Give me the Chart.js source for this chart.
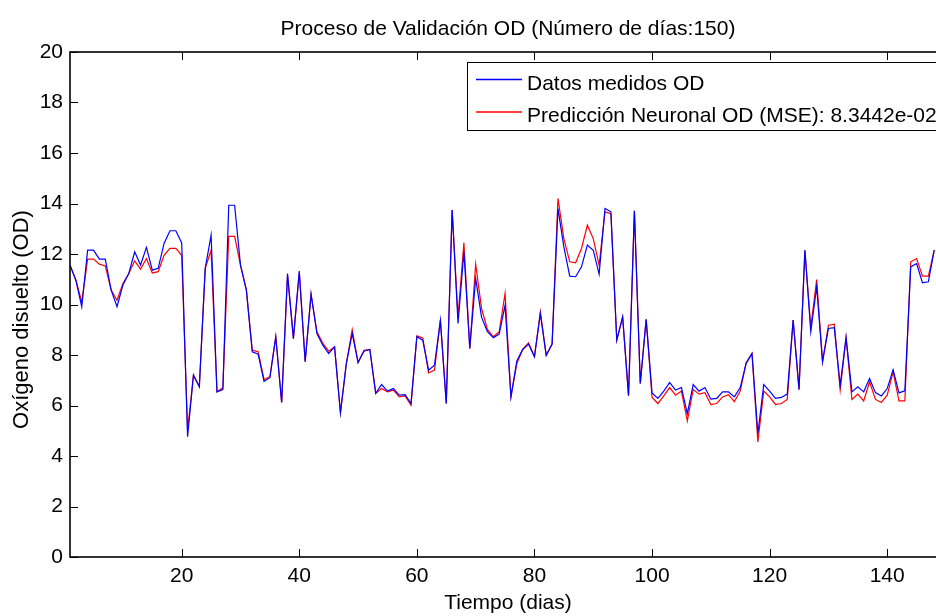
<!DOCTYPE html>
<html>
<head>
<meta charset="utf-8">
<script src="https://cdn.jsdelivr.net/npm/chart.js@4"></script>
<style>
  html, body { margin: 0; padding: 0; background: #fff; }
  #view { width: 936px; height: 616px; overflow: hidden; }
  #wrap { width: 1016px; height: 616px; position: relative; }
</style>
</head>
<body>
<div id="view"><div id="wrap"><canvas id="chart"></canvas></div></div>
<script>
const FONT = "'Liberation Sans', Arial, Helvetica, sans-serif";

// oxígeno disuelto medido, día 1..148
const measured = [
  11.56, 10.96, 9.91, 12.15, 12.15, 11.80, 11.80, 10.57, 9.91, 10.77,
  11.23, 12.09, 11.56, 12.26, 11.36, 11.43, 12.42, 12.92, 12.92, 12.44,
  4.76, 7.20, 6.74, 11.43, 12.75, 6.54, 6.63, 13.93, 13.93, 11.56,
  10.57, 8.13, 8.03, 6.96, 7.10, 8.72, 6.12, 11.23, 8.65, 11.33,
  7.73, 10.41, 8.85, 8.39, 8.06, 8.32, 5.71, 7.66, 8.85, 7.70,
  8.15, 8.22, 6.48, 6.83, 6.57, 6.67, 6.41, 6.43, 6.08, 8.72,
  8.59, 7.40, 7.60, 9.38, 6.08, 13.74, 9.25, 12.09, 8.26, 11.03,
  9.50, 8.92, 8.68, 8.83, 9.97, 6.34, 7.76, 8.22, 8.43, 7.93,
  9.64, 7.99, 8.43, 13.80, 12.28, 11.12, 11.10, 11.49, 12.35, 12.15,
  11.20, 13.80, 13.67, 8.59, 9.51, 6.40, 13.71, 6.87, 9.41, 6.50,
  6.28, 6.57, 6.91, 6.61, 6.71, 5.68, 6.83, 6.57, 6.71, 6.25,
  6.28, 6.54, 6.54, 6.34, 6.71, 7.66, 8.06, 4.89, 6.83, 6.57,
  6.28, 6.32, 6.45, 9.38, 6.63, 12.15, 8.92, 10.70, 7.73, 9.05,
  9.08, 6.80, 8.69, 6.54, 6.74, 6.54, 7.07, 6.51, 6.38, 6.67,
  7.42, 6.50, 6.58, 11.49, 11.62, 10.86, 10.90, 12.15
];

// salida de la red neuronal
const predicted = [
  11.56, 10.96, 10.10, 11.80, 11.80, 11.60, 11.53, 10.57, 10.17, 10.83,
  11.23, 11.73, 11.40, 11.82, 11.25, 11.30, 11.95, 12.22, 12.22, 11.95,
  5.02, 7.20, 6.74, 11.43, 12.15, 6.54, 6.70, 12.70, 12.70, 11.56,
  10.57, 8.19, 8.13, 7.03, 7.14, 8.72, 6.12, 11.16, 8.65, 11.25,
  7.73, 10.41, 8.92, 8.46, 8.15, 8.32, 5.71, 7.66, 9.00, 7.70,
  8.19, 8.22, 6.48, 6.67, 6.54, 6.61, 6.34, 6.38, 6.01, 8.76,
  8.68, 7.29, 7.40, 9.38, 6.08, 13.74, 9.51, 12.44, 8.26, 11.60,
  9.85, 9.01, 8.72, 8.92, 10.44, 6.34, 7.66, 8.22, 8.48, 7.93,
  9.71, 7.99, 8.43, 14.20, 12.61, 11.69, 11.65, 12.22, 13.14, 12.61,
  11.56, 13.67, 13.60, 8.59, 9.51, 6.38, 13.71, 6.87, 9.41, 6.32,
  6.08, 6.38, 6.71, 6.41, 6.57, 5.39, 6.63, 6.45, 6.51, 6.04,
  6.08, 6.34, 6.43, 6.15, 6.57, 7.69, 8.06, 4.56, 6.57, 6.34,
  6.04, 6.08, 6.24, 9.38, 6.63, 12.15, 9.10, 10.99, 7.73, 9.18,
  9.22, 6.61, 8.69, 6.24, 6.45, 6.18, 6.94, 6.24, 6.12, 6.41,
  7.33, 6.18, 6.18, 11.69, 11.82, 11.12, 11.12, 12.15
];

const days = measured.map((_, i) => i + 1);
const seriesNames = ['Datos medidos OD', 'Predicción Neuronal OD (MSE): 8.3442e-02'];
const seriesColors = ['#0000ff', '#ff0000'];
const titleText = 'Proceso de Validación OD (Número de días:150)';
const yTitle = 'Oxígeno disuelto (OD)';

const TICK = 8;

// marco estilo MATLAB: título, caja, marcas hacia dentro, leyenda y etiqueta Y
const matlabFrame = {
  id: 'matlabFrame',
  afterDraw(chart) {
    const {ctx, chartArea: a, scales: {x, y}} = chart;
    ctx.save();

    // título centrado sobre los ejes
    ctx.fillStyle = '#000';
    ctx.font = '21px ' + FONT;
    ctx.textAlign = 'center';
    ctx.textBaseline = 'alphabetic';
    ctx.fillText(titleText, (a.left + a.right) / 2, 35);

    ctx.strokeStyle = '#000';
    ctx.lineWidth = 1;
    ctx.beginPath();
    x.ticks.forEach(t => {
      const px = Math.round(x.getPixelForValue(t.value)) + 0.5;
      ctx.moveTo(px, a.bottom); ctx.lineTo(px, a.bottom - TICK);
      ctx.moveTo(px, a.top); ctx.lineTo(px, a.top + TICK);
    });
    y.ticks.forEach(t => {
      const py = Math.round(y.getPixelForValue(t.value)) + 0.5;
      ctx.moveTo(a.left, py); ctx.lineTo(a.left + TICK, py);
      ctx.moveTo(a.right, py); ctx.lineTo(a.right - TICK, py);
    });
    ctx.stroke();

    ctx.lineWidth = 1.6;
    ctx.strokeRect(a.left, a.top, a.right - a.left, a.bottom - a.top);

    // leyenda
    const lx = a.right - 479, ly = a.top + 10;
    ctx.fillStyle = '#fff';
    ctx.fillRect(lx, ly, 477, 68);
    ctx.lineWidth = 1;
    ctx.strokeStyle = '#000';
    ctx.strokeRect(lx + 0.5, ly + 0.5, 477, 68);
    ctx.font = '21px ' + FONT;
    ctx.textAlign = 'left';
    ctx.textBaseline = 'alphabetic';
    seriesNames.forEach((name, i) => {
      const base = ly + 27.5 + i * 32.5;
      ctx.beginPath();
      ctx.strokeStyle = seriesColors[i];
      ctx.lineWidth = 1.4;
      ctx.moveTo(lx + 9, base - 10);
      ctx.lineTo(lx + 55, base - 10);
      ctx.stroke();
      ctx.fillStyle = '#000';
      ctx.fillText(name, lx + 60, base);
    });

    // etiqueta del eje Y
    ctx.translate(22, (a.top + a.bottom) / 2 + 15);
    ctx.rotate(-Math.PI / 2);
    ctx.textAlign = 'center';
    ctx.textBaseline = 'middle';
    ctx.font = '22px ' + FONT;
    ctx.fillStyle = '#000';
    ctx.fillText(yTitle, 0, 0);

    ctx.restore();
  }
};

new Chart(document.getElementById('chart'), {
  type: 'line',
  data: {
    datasets: [measured, predicted].map((vals, i) => ({
      label: seriesNames[i],
      data: vals.map((v, k) => ({x: days[k], y: v})),
      borderColor: seriesColors[i],
      borderWidth: 1.2,
      pointRadius: 0,
      tension: 0,
      fill: false
    }))
  },
  options: {
    responsive: true,
    maintainAspectRatio: false,
    animation: false,
    layout: { padding: { left: 0, right: 70, top: 52, bottom: 0 } },
    scales: {
      x: {
        type: 'linear',
        min: 1,
        max: 150,
        grid: { display: false, drawTicks: false },
        border: { display: false },
        ticks: {
          stepSize: 20,
          includeBounds: false,
          padding: 7,
          color: '#000',
          font: { family: FONT, size: 21 }
        },
        title: {
          display: true,
          text: 'Tiempo (dias)',
          color: '#000',
          padding: { top: 0, bottom: 0 },
          font: { family: FONT, size: 21 }
        },
        afterFit: (scale) => { scale.height = 59; }
      },
      y: {
        min: 0,
        max: 20,
        grid: { display: false, drawTicks: false },
        border: { display: false },
        ticks: {
          stepSize: 2,
          padding: 7,
          color: '#000',
          font: { family: FONT, size: 21 }
        },
        afterFit: (scale) => { scale.width = 70; }
      }
    },
    plugins: {
      legend: { display: false },
      tooltip: { enabled: false },
      title: { display: false }
    }
  },
  plugins: [matlabFrame]
});
</script>
</body>
</html>
